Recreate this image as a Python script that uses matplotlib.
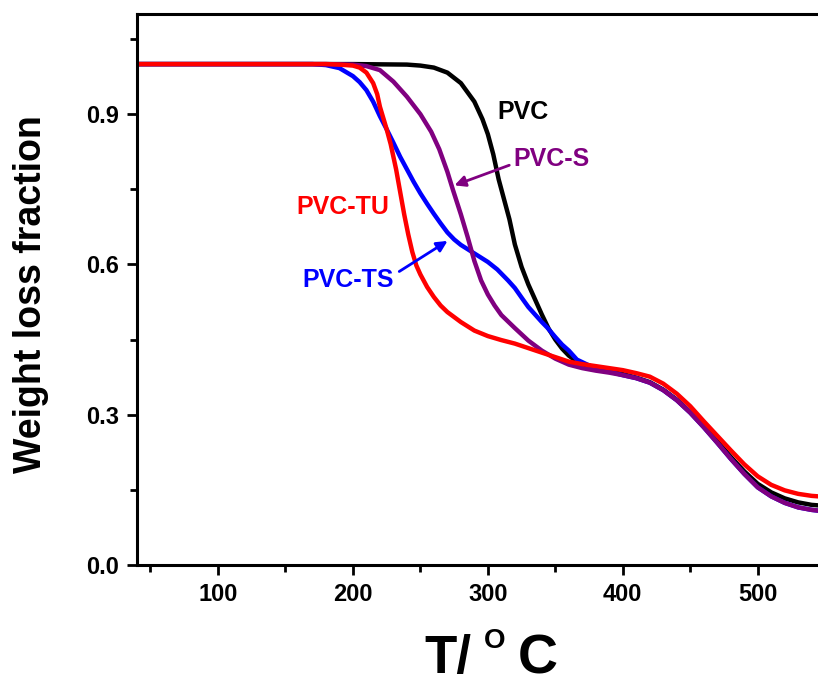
import matplotlib
matplotlib.use('Agg')
import matplotlib.pyplot as plt
from matplotlib.ticker import MultipleLocator

plt.rcParams['font.family'] = ['Liberation Sans', 'DejaVu Sans']
plt.rcParams['font.weight'] = 'bold'

# TGA curves: temperature (deg C) and weight fraction
t_pvc = [40, 100, 200, 240, 250, 260, 270, 280, 290, 296, 300, 304, 308, 312, 316, 320,
         325, 330, 335, 340, 345, 350, 355, 360, 365, 370, 380, 390, 400, 410, 420, 430,
         440, 450, 460, 470, 480, 490, 500, 510, 520, 530, 540, 550, 580]
w_pvc = [1.0, 1.0, 1.0, 0.999, 0.997, 0.993, 0.983, 0.962, 0.925, 0.89, 0.86, 0.82, 0.77,
         0.73, 0.69, 0.64, 0.595, 0.56, 0.53, 0.5, 0.472, 0.45, 0.432, 0.418, 0.408, 0.401,
         0.393, 0.387, 0.381, 0.374, 0.365, 0.35, 0.33, 0.305, 0.277, 0.247, 0.216, 0.187,
         0.162, 0.145, 0.133, 0.125, 0.12, 0.118, 0.115]

t_s = [40, 100, 180, 200, 210, 220, 230, 240, 250, 258, 264, 270, 274, 280, 285, 290, 295,
       300, 305, 310, 320, 330, 340, 350, 360, 370, 380, 390, 400, 410, 420, 430, 440, 450,
       460, 470, 480, 490, 500, 510, 520, 530, 540, 550, 580]
w_s = [1.0, 1.0, 1.0, 0.999, 0.996, 0.988, 0.965, 0.935, 0.9, 0.865, 0.83, 0.785, 0.75, 0.7,
       0.655, 0.607, 0.568, 0.54, 0.518, 0.499, 0.473, 0.448, 0.428, 0.412, 0.4, 0.393,
       0.388, 0.384, 0.379, 0.373, 0.364, 0.349, 0.329, 0.304, 0.275, 0.244, 0.212, 0.182,
       0.155, 0.137, 0.124, 0.115, 0.11, 0.107, 0.104]

t_ts = [40, 100, 170, 180, 190, 200, 205, 210, 215, 220, 225, 230, 235, 240, 245, 250, 255,
        260, 265, 270, 275, 280, 290, 300, 307, 315, 320, 326, 330, 335, 340, 344, 350, 355,
        360, 366, 373, 380, 390, 400, 410, 420, 430, 440, 450, 460, 470, 480, 490, 500, 510,
        520, 530, 540, 550, 580]
w_ts = [1.0, 1.0, 1.0, 0.998, 0.992, 0.976, 0.964, 0.948, 0.925, 0.896, 0.87, 0.843, 0.815,
        0.79, 0.765, 0.742, 0.721, 0.701, 0.682, 0.664, 0.65, 0.639, 0.622, 0.605, 0.59, 0.568,
        0.553, 0.53, 0.515, 0.5, 0.485, 0.474, 0.455, 0.44, 0.428, 0.41, 0.401, 0.392,
        0.386, 0.379, 0.373, 0.364, 0.349, 0.329, 0.304, 0.275, 0.244, 0.212, 0.182, 0.155,
        0.137, 0.124, 0.115, 0.11, 0.107, 0.104]

t_tu = [40, 100, 180, 190, 200, 205, 210, 215, 218, 220, 225, 228, 232, 235, 238, 241, 244,
        247, 250, 255, 260, 265, 270, 280, 290, 300, 310, 320, 330, 340, 350, 360, 370, 380,
        390, 400, 410, 420, 430, 440, 450, 460, 470, 480, 490, 500, 510, 520, 530, 540, 550, 580]
w_tu = [1.0, 1.0, 1.0, 0.999, 0.997, 0.993, 0.983, 0.962, 0.94, 0.915, 0.87, 0.84, 0.79,
        0.745, 0.70, 0.66, 0.625, 0.598, 0.58, 0.555, 0.535, 0.518, 0.505, 0.485, 0.468,
        0.457, 0.449, 0.442, 0.433, 0.424, 0.415, 0.406, 0.401, 0.397, 0.393, 0.389, 0.383,
        0.376, 0.362, 0.342, 0.317, 0.287, 0.258, 0.229, 0.201, 0.177, 0.16, 0.149, 0.142,
        0.138, 0.136, 0.133]

fig = plt.figure(figsize=(8.18, 6.78), dpi=100)
# right spine lies outside the picture, as in the cropped original
ax = fig.add_axes([137 / 818, 113 / 678, 726 / 818, 551 / 678])

lw = 3.2
ax.plot(t_pvc, w_pvc, color='black', lw=lw)
ax.plot(t_ts, w_ts, color='#0000ff', lw=lw)
ax.plot(t_s, w_s, color='#800080', lw=lw)
ax.plot(t_tu, w_tu, color='#ff0000', lw=lw)

ax.set_xlim(40, 578)
ax.set_ylim(0, 1.1)
ax.set_xticks([100, 200, 300, 400, 500])
ax.xaxis.set_minor_locator(MultipleLocator(50))
ax.yaxis.set_major_locator(MultipleLocator(0.3))
ax.yaxis.set_minor_locator(MultipleLocator(0.15))
ax.yaxis.set_major_formatter(lambda v, p: f'{v:.1f}')
ax.tick_params(which='major', direction='out', length=7, width=2, labelsize=17, pad=6)
ax.tick_params(which='minor', direction='out', length=5, width=2)
for s in ax.spines.values():
    s.set_linewidth(2.2)

fig.text(13 / 818, (678 - 294) / 678, 'Weight loss fraction', fontsize=27, fontweight='bold',
         rotation=90, ha='left', va='center')

# x label "T/ °C" built from three pieces so the small raised O sits as in the original
fig.text(424 / 818, 5 / 678, 'T/', fontsize=38, fontweight='bold', ha='left', va='baseline')
fig.text(495 / 818, 30 / 678, 'O', fontsize=20, fontweight='bold', ha='center', va='baseline')
fig.text(518 / 818, 5 / 678, 'C', fontsize=40, fontweight='bold', ha='left', va='baseline')

ax.text(326, 0.904, 'PVC', color='black', fontsize=18, fontweight='bold', ha='center', va='center')
ax.text(347, 0.81, 'PVC-S', color='#800080', fontsize=18, fontweight='bold', ha='center', va='center')
ax.text(192.6, 0.714, 'PVC-TU', color='#ff0000', fontsize=18, fontweight='bold', ha='center', va='center')
ax.text(196.7, 0.568, 'PVC-TS', color='#0000ff', fontsize=18, fontweight='bold', ha='center', va='center')

ax.annotate('', xy=(273.3, 0.756), xytext=(317.8, 0.80),
            arrowprops=dict(arrowstyle='-|>', color='#800080', lw=2, mutation_scale=16))
ax.annotate('', xy=(271.9, 0.65), xytext=(232.6, 0.583),
            arrowprops=dict(arrowstyle='-|>', color='#0000ff', lw=2, mutation_scale=16))

fig.savefig('out.png', dpi=100)
